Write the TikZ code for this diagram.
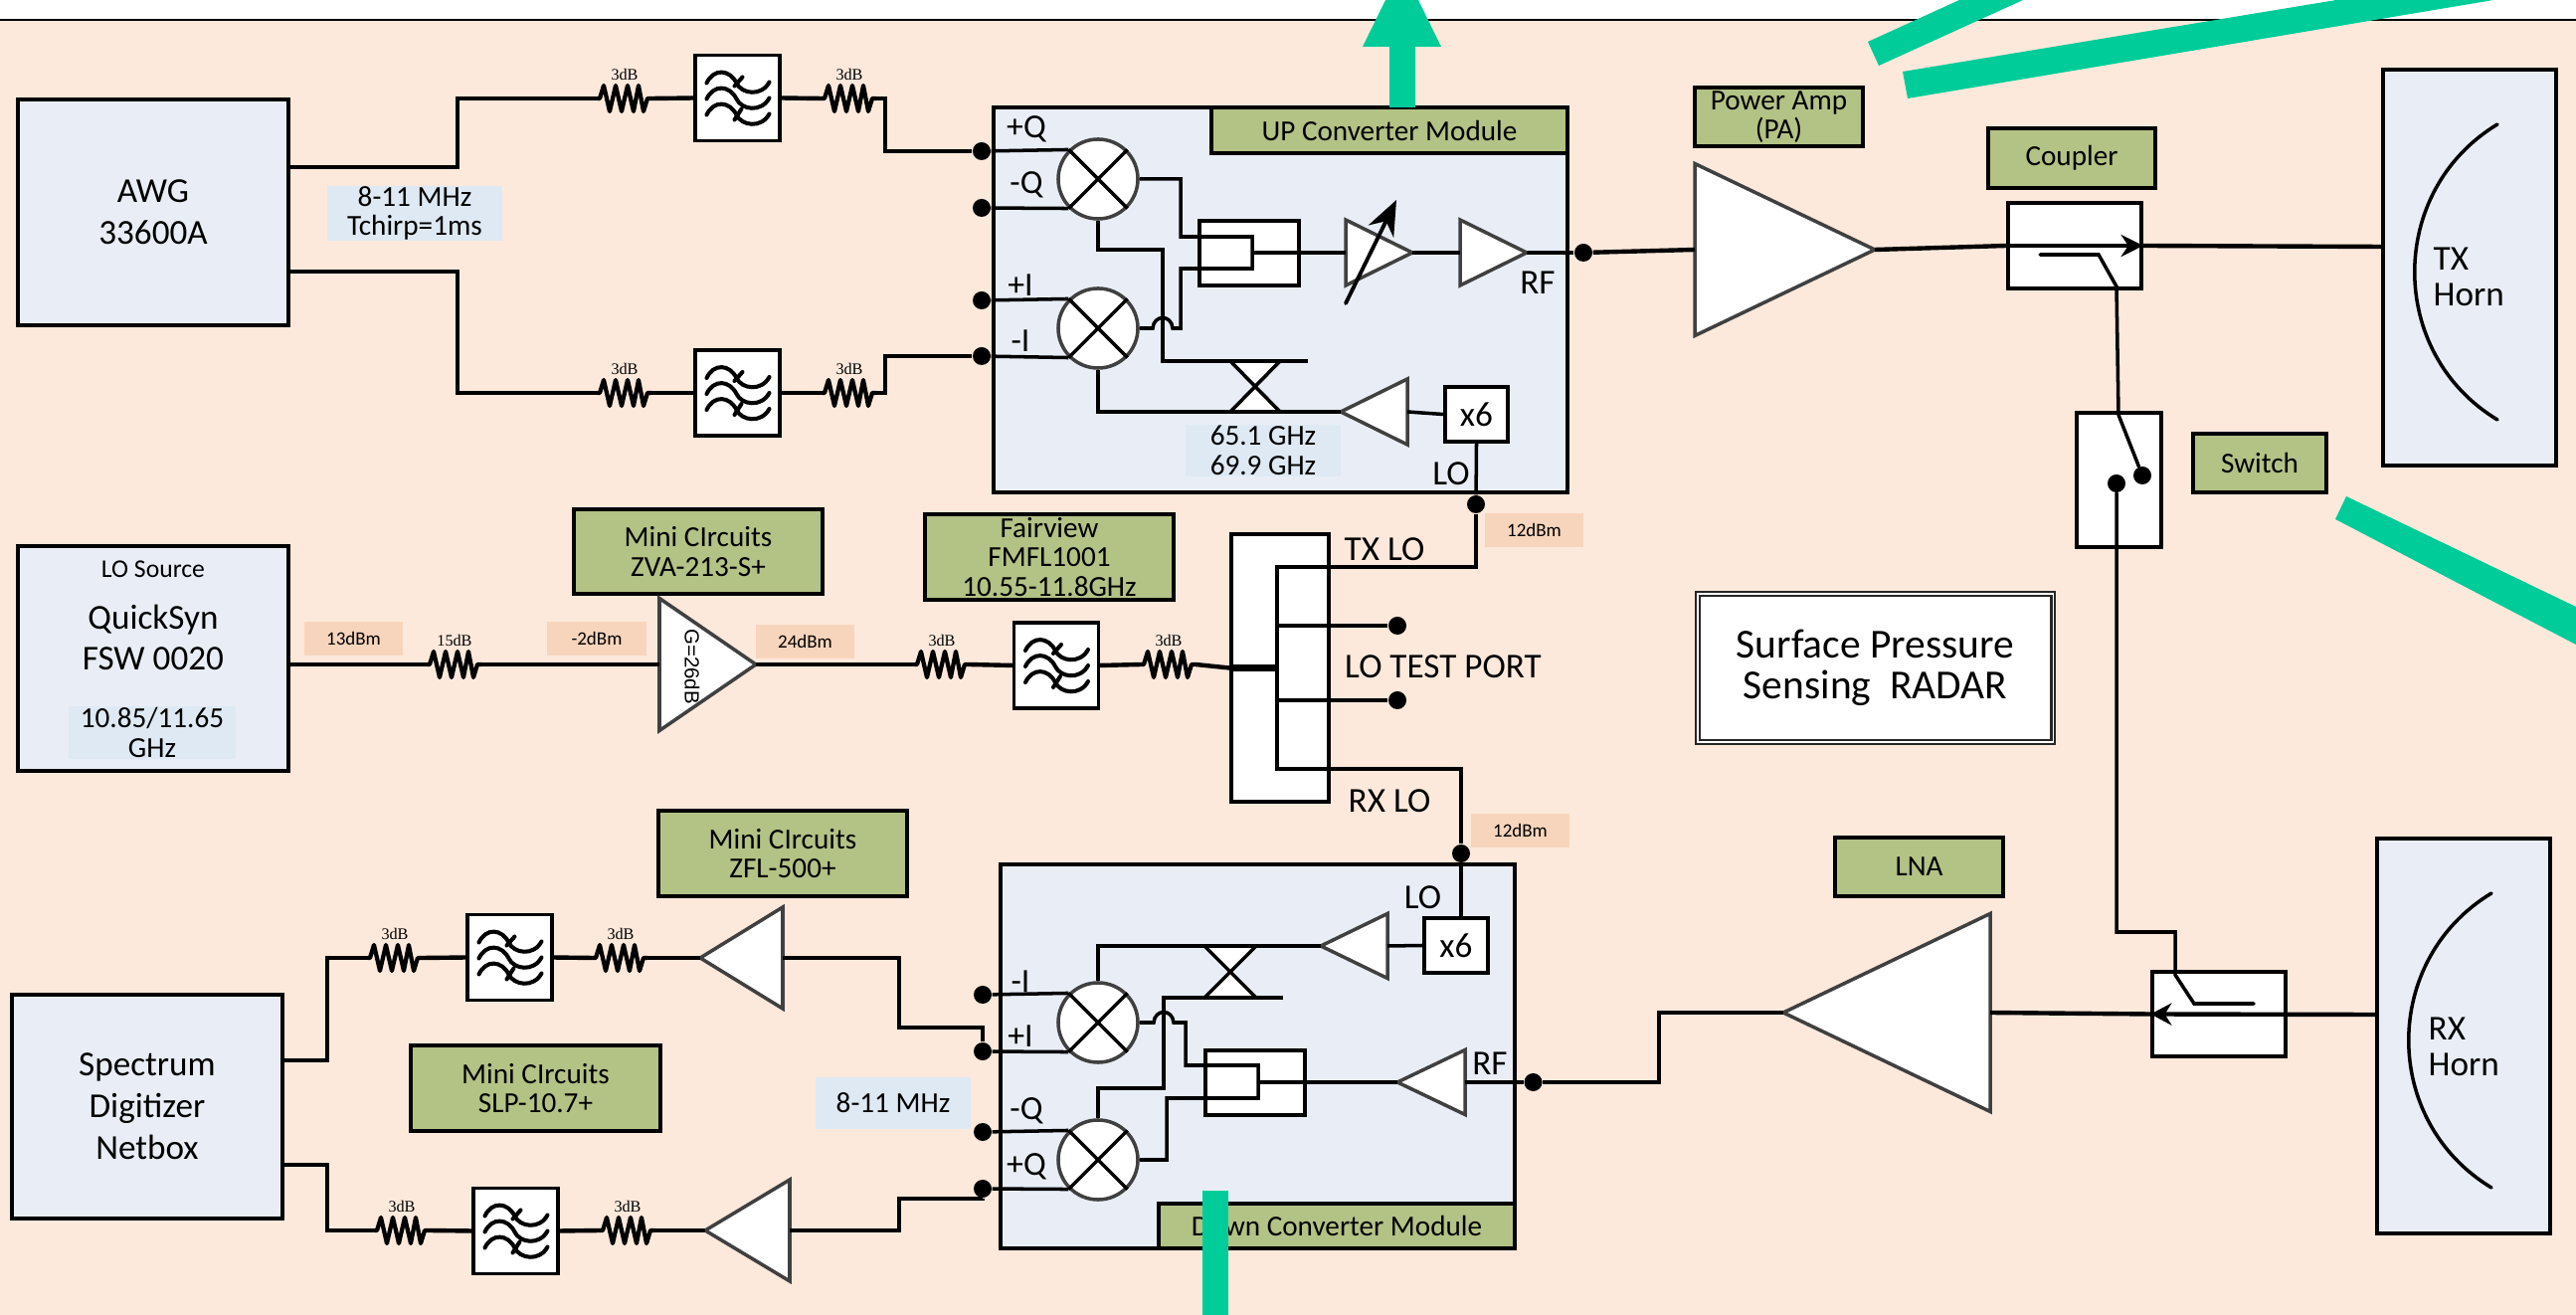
\documentclass[tikz,border=0pt]{standalone}
\usepackage{fontspec}
\setmainfont{Carlito}
\newfontfamily\attenfont{Liberation Serif}
\newfontfamily\gainfont{Liberation Sans}
\usetikzlibrary{positioning, arrows.meta}
\definecolor{PeachBack}{HTML}{FCE9DC}
\definecolor{BlockBlue}{HTML}{E9EEF6}
\definecolor{TagBlue}{HTML}{DEE9F3}
\definecolor{TagPeach}{HTML}{F7D5BC}
\definecolor{NameGreen}{HTML}{B3C285}
\definecolor{MarkGreen}{HTML}{00CC99}
\definecolor{AmpGray}{HTML}{404040}
\tikzset{
  wire/.style={line width=1.25pt, line join=miter},
  thinwire/.style={line width=1pt, line join=miter},
  blockbox/.style={draw, line width=1.1pt, fill=BlockBlue, align=center, inner sep=0pt},
  namebox/.style={draw, line width=1.1pt, fill=NameGreen, align=center, inner sep=0pt, font=\fontsize{8.3}{8.3}\selectfont},
  whitebox/.style={draw, line width=1.1pt, fill=white, inner sep=0pt, align=center},
  tagblue/.style={fill=TagBlue, inner sep=0pt, align=center, font=\fontsize{8.3}{8.4}\selectfont},
  tagpeach/.style={fill=TagPeach, inner sep=0pt, minimum width=.99cm, minimum height=.34cm, font=\fontsize{5.4}{6}\selectfont},
  portdot/.style={circle, fill=black, inner sep=0pt, minimum size=.18cm},
  mixernode/.style={circle, draw=AmpGray, line width=1pt, fill=white, inner sep=0pt, minimum size=.8cm},
  amptri/.style={draw=AmpGray, line width=1pt, fill=white, line join=miter},
  lbl/.style={inner sep=0pt, font=\fontsize{10}{10.2}\selectfont},
  portlbl/.style={inner sep=0pt, font=\fontsize{9.6}{10}\selectfont},
  markbar/.style={fill=MarkGreen},
  atten/.pic={
    \draw[line width=1.2pt, line join=round] (-27,0) -- (-25,0) -- (-21,-13) -- (-15,13) -- (-9,-13) -- (-3,13) -- (3,-13) -- (9,13) -- (14,-13) -- (19,13) -- (23,0) -- (27,0);
    \coordinate (-w) at (-27,0);
    \coordinate (-e) at (27,0);
    \node[inner sep=0pt, font=\attenfont\fontsize{4.6}{5}\selectfont] (-val) at (0,-24) {#1};
  },
  bandpass/.pic={
    \node[whitebox, minimum width=.85cm, minimum height=.86cm] (-box) at (0,0) {};
    \foreach \dy in {0,16,32}
      \draw[line width=1.15pt, line cap=round, shift={(0,\dy)}] (-31,-15) .. controls (-24,-30) and (-8,-29) .. (-1,-15) .. controls (4,-4) and (24,-1) .. (32,-16);
    \draw[line width=1.15pt, line cap=round] (-3,-12) -- (5,-21);
    \draw[line width=1.15pt, line cap=round] (-3,22) -- (4,11);
    \coordinate (-w) at (-42.5,0);
    \coordinate (-e) at (42.5,0);
  },
}
% amplifier triangle: name, tip x, y, base x, half height
\newcommand{\ampl}[5]{
  \draw[amptri] (#2,#3) -- (#4,{#3-#5}) -- (#4,{#3+#5}) -- cycle;
  \coordinate (#1-tip) at (#2,#3);
  \coordinate (#1-base) at (#4,#3);
}
% mixer: name, x, y
\newcommand{\mixer}[3]{
  \node[mixernode] (#1) at (#2,#3) {};
  \draw[thinwire] (#1.45) -- (#1.225);
  \draw[thinwire] (#1.135) -- (#1.-45);
}
\begin{document}
\begin{tikzpicture}[x=.01cm, y=-.01cm]
  \useasboundingbox (0,0) rectangle (2590,1322);
  \fill[white] (0,0) rectangle (2590,20);
  \fill[PeachBack] (0,20) rectangle (2590,1322);
  \draw[line width=.6pt] (0,20) -- (2590,20);

  % Modules
  \node[blockbox, minimum width=5.77cm, minimum height=3.87cm] (upmod) at (1287.5,301.5) {};
  \node[blockbox, minimum width=5.165cm, minimum height=3.86cm] (downmod) at (1264.75,1062) {};
  \node[namebox, minimum width=3.58cm, minimum height=.46cm] (upname) at (1397,131) {UP Converter Module};
  \node[namebox, minimum width=3.58cm, minimum height=.45cm] (downname) at (1344,1232.5) {Down Converter Module};

  % Instruments
  \node[blockbox, minimum width=2.72cm, minimum height=2.27cm, font=\fontsize{10}{12}\selectfont] (awg) at (154,213.5) {AWG\\33600A};
  \node[blockbox, minimum width=2.72cm, minimum height=2.26cm] (losrc) at (154,662) {};
  \node[blockbox, minimum width=2.72cm, minimum height=2.25cm, font=\fontsize{10}{12}\selectfont] (netbox) at (148,1112.5) {Spectrum\\Digitizer\\Netbox};
  \node[inner sep=0pt, font=\fontsize{7.3}{8}\selectfont] (lotitle) at (154,572) {LO Source};
  \node[inner sep=0pt, align=center, font=\fontsize{10}{11.7}\selectfont] (loname) at (154,641) {QuickSyn\\FSW 0020};
  \node[tagblue, minimum width=1.68cm, minimum height=.53cm] (lofreq) at (153,736.5) {10.85/11.65\\GHz};
  \node[blockbox, minimum width=1.74cm, minimum height=3.98cm] (txhorn) at (2483,269) {};
  \node[blockbox, minimum width=1.74cm, minimum height=3.97cm] (rxhorn) at (2477,1041.5) {};
  \node[lbl, align=left, anchor=west] (txtext) at (2446,278) {TX\\Horn};
  \node[lbl, align=left, anchor=west] (rxtext) at (2441,1052) {RX\\Horn};
  \draw[thinwire, line cap=round] (2511,125) .. controls (2400,192) and (2400,355) .. (2511,422);
  \draw[thinwire, line cap=round] (2505,898) .. controls (2394,965) and (2394,1127) .. (2505,1194);

  % Part names
  \node[namebox, minimum width=2.5cm, minimum height=.85cm] (zva) at (702,554.5) {Mini CIrcuits\\ZVA-213-S+};
  \node[namebox, minimum width=2.5cm, minimum height=.86cm] (fairview) at (1055,560) {Fairview\\FMFL1001\\10.55-11.8GHz};
  \node[namebox, minimum width=2.5cm, minimum height=.86cm] (zfl) at (787,858) {Mini CIrcuits\\ZFL-500+};
  \node[namebox, minimum width=2.51cm, minimum height=.86cm] (slp) at (538.5,1094) {Mini CIrcuits\\SLP-10.7+};
  \node[namebox, minimum width=1.69cm, minimum height=.59cm] (paname) at (1788.5,117.5) {Power Amp\\(PA)};
  \node[namebox, minimum width=1.68cm, minimum height=.6cm] (cplname) at (2083,159) {Coupler};
  \node[namebox, minimum width=1.34cm, minimum height=.59cm] (swname) at (2272,465.5) {Switch};
  \node[namebox, minimum width=1.69cm, minimum height=.59cm] (lnaname) at (1929.5,871.5) {LNA};
  \node[draw=black!85, line width=.7pt, double=white, double distance=.35pt, fill=white, minimum width=3.57cm, minimum height=1.49cm, inner sep=0pt, align=center, font=\fontsize{11.8}{11.7}\selectfont] (radar) at (1885.5,671.5) {Surface Pressure\\Sensing\ \ RADAR};

  % Tags
  \node[tagblue, minimum width=1.76cm, minimum height=.53cm] (tagawg) at (417,214.5) {8-11 MHz\\Tchirp=1ms};
  \node[tagblue, minimum width=1.56cm, minimum height=.52cm] (tagup) at (1270,453) {65.1 GHz\\69.9 GHz};
  \node[tagblue, minimum width=1.56cm, minimum height=.52cm] (tagdown) at (898,1109) {8-11 MHz};
  \node[tagpeach] (tagA) at (355.5,642) {13dBm};
  \node[tagpeach] (tagB) at (600,642) {-2dBm};
  \node[tagpeach] (tagC) at (809.5,645) {24dBm};
  \node[tagpeach] (tagD) at (1542.5,533) {12dBm};
  \node[tagpeach] (tagE) at (1528.5,835) {12dBm};

  % Port dots
  \foreach \dotname/\xx/\yy in {pQ/987/152, mQ/987/209, pI/987/302, mI/987/358, rfup/1592/254, txdot/1484/507,
      rxdot/1469/858, tpA/1405/629, tpB/1405/704, dmI/988/1000, dpI/988/1057, dmQ/988/1138, dpQ/988/1195, rfdown/1541.5/1088}
    \node[portdot] (\dotname) at (\xx,\yy) {};

  % Upper I/Q chain
  \pic (atA) at (628,99) {atten=3dB};
  \pic (fltA) at (741.5,98.5) {bandpass};
  \pic (atB) at (854,99) {atten=3dB};
  \pic (atC) at (628,395) {atten=3dB};
  \pic (fltB) at (741.5,395) {bandpass};
  \pic (atD) at (854,395) {atten=3dB};
  \coordinate (awgup) at (290,168);
  \coordinate (awgdn) at (290,273);
  \draw[wire] (awgup) -- (460,168) |- (atA-w);
  \draw[wire] (atA-e) -- (fltA-w);
  \draw[wire] (fltA-e) -- (atB-w);
  \draw[wire] (atB-e) -- (890,99) |- (pQ);
  \draw[wire] (awgdn) -- (460,273) |- (atC-w);
  \draw[wire] (atC-e) -- (fltB-w);
  \draw[wire] (fltB-e) -- (atD-w);
  \draw[wire] (atD-e) -- (890,395) |- (mI);

  % LO chain
  \pic (atE) at (457,668) {atten=15dB};
  \pic (atF) at (947,668) {atten=3dB};
  \pic (fltC) at (1062,669) {bandpass};
  \pic (atG) at (1175,668) {atten=3dB};
  \coordinate (losrcout) at (290,668);
  \draw[wire] (losrcout) -- (atE-w);
  \ampl{loamp}{760}{668}{663}{66.5}
  \node[inner sep=0pt, rotate=-90, font=\gainfont\fontsize{5.8}{7}\selectfont] (gain) at (696,670) {G=26dB};
  \draw[wire] (atE-e) -- (loamp-base);
  \draw[wire] (loamp-tip) -- (atF-w);
  \draw[wire] (atF-e) -- (fltC-w);
  \draw[wire] (fltC-e) -- (atG-w);
  \node[whitebox, minimum width=.98cm, minimum height=2.69cm] (split) at (1287,671.5) {};
  \draw[wire] (atG-e) -- (split.west);
  \draw[line width=1.8pt] (split.west) -- (1284,671.5);
  \draw[thinwire] (txdot) -- (1484,570) -- (1284,570) -- (1284,773) -- (1469,773) -- (rxdot);
  \draw[thinwire] (1284,629) -- (tpA);
  \draw[thinwire] (1284,704) -- (tpB);
  \node[lbl] (txlo) at (1392,552) {TX LO};
  \node[lbl] (lotest) at (1451,670) {LO TEST PORT};
  \node[lbl] (rxlo) at (1397,805) {RX LO};

  % Up converter
  \mixer{mixA}{1104}{180}
  \mixer{mixB}{1104}{330}
  \node[whitebox, minimum width=1cm, minimum height=.65cm] (hybA) at (1256,254.5) {};
  \ampl{varamp}{1420}{254}{1353}{33}
  \ampl{rfamp}{1535}{254}{1468}{33}
  \ampl{loampA}{1348}{414}{1415}{33}
  \node[whitebox, minimum width=.63cm, minimum height=.55cm, font=\fontsize{10}{10}\selectfont] (xsixA) at (1484.5,416.5) {x6};
  \draw[thinwire] (pQ) -- (mixA.135);
  \draw[thinwire] (mQ) -- (mixA.225);
  \draw[thinwire] (pI) -- (mixB.135);
  \draw[thinwire] (mI) -- (mixB.225);
  \draw[thinwire] (mixA.east) -- (1187,180) -- (1187,238) -- (1259,238) -- (1259,270) -- (1187,270) -- (1187,330) -- (1179,330) .. controls (1178,316) and (1160,316) .. (1159,330) -- (mixB.east);
  \draw[thinwire] (mixA.south) -- (1104,251) -- (1169,251) -- (1169,363) -- (1315,363);
  \draw[thinwire] (mixB.south) -- (1104,414) -- (loampA-tip);
  \draw[thinwire, fill=white] (1237,363) -- (1287,414) -- (1237,414) -- (1287,363) -- cycle;
  \draw[thinwire] (1259,254) -- (varamp-base);
  \draw[thinwire] (varamp-tip) -- (rfamp-base);
  \draw[thinwire] (rfamp-tip) -- (rfup);
  \draw[thinwire] (loampA-base) -- (xsixA.west);
  \draw[thinwire] (xsixA.south) -- (txdot);
  \draw[line width=1.1pt, -{Stealth[length=10pt, width=8pt]}, line cap=round] (1353,305) -- (1404,201);
  \node[portlbl] (upPQ) at (1032,130) {+Q};
  \node[portlbl] (upMQ) at (1032,186) {-Q};
  \node[portlbl] (upPI) at (1026,287) {+I};
  \node[portlbl] (upMI) at (1026,343) {-I};
  \node[lbl] (uprf) at (1546,284) {RF};
  \node[lbl] (uplo) at (1459,476) {LO};

  % Power amp and TX path
  \ampl{pamp}{1885}{251}{1704}{86.5}
  \node[whitebox, minimum width=1.34cm, minimum height=.86cm, line width=.95pt] (cplA) at (2086,247) {};
  \draw[wire] (rfup) -- (pamp-base);
  \draw[wire] (pamp-tip) -- (cplA.west);
  \draw[wire, -{Stealth[length=6.3pt, width=6.3pt]}] (cplA.west) -- (cplA.east);
  \draw[wire] (cplA.east) -- (2396,248);
  \node[whitebox, minimum width=.85cm, minimum height=1.35cm, line width=.95pt] (swbox) at (2130.5,482.5) {};
  \node[portdot] (swA) at (2154,478) {};
  \node[portdot] (swB) at (2128,486) {};
  \draw[thinwire, line cap=round] (2051,256) -- (2110,256) -- (2128,288) -- (2130,417) -- (swA);
  \node[whitebox, minimum width=1.34cm, minimum height=.85cm, line width=.95pt] (cplB) at (2231,1019.5) {};
  \draw[thinwire, line cap=round] (swB) -- (2128,937) -- (2187,937) -- (2187,980) -- (2206,1009) -- (2266,1009);

  % Down converter
  \mixer{mixC}{1104}{1028}
  \mixer{mixD}{1104}{1166}
  \node[whitebox, minimum width=1cm, minimum height=.65cm] (hybB) at (1262,1088.5) {};
  \ampl{rxamp}{1405}{1088}{1473}{32.5}
  \ampl{loampB}{1328}{951}{1395}{32.5}
  \node[whitebox, minimum width=.64cm, minimum height=.55cm, font=\fontsize{10}{10}\selectfont] (xsixB) at (1464,950.5) {x6};
  \draw[thinwire] (dmI) -- (mixC.135);
  \draw[thinwire] (dpI) -- (mixC.225);
  \draw[thinwire] (dmQ) -- (mixD.135);
  \draw[thinwire] (dpQ) -- (mixD.225);
  \draw[thinwire] (mixC.north) -- (1104,951) -- (loampB-tip);
  \draw[thinwire] (mixD.north) -- (1104,1094) -- (1170,1094) -- (1170,1003) -- (1290,1003);
  \draw[thinwire, fill=white] (1211,951) -- (1263,1003) -- (1211,1003) -- (1263,951) -- cycle;
  \draw[thinwire] (mixC.east) -- (1160,1028) .. controls (1161,1014) and (1179,1014) .. (1180,1028) -- (1192,1028) -- (1192,1071) -- (1265,1071) -- (1265,1104) -- (1173,1104) -- (1173,1166) -- (mixD.east);
  \draw[thinwire] (1265,1088) -- (rxamp-tip);
  \draw[thinwire] (rxamp-base) -- (rfdown);
  \draw[thinwire] (loampB-base) -- (xsixB.west);
  \draw[thinwire] (rxdot) -- (rxdot |- xsixB.north);
  \node[portlbl] (dnMI) at (1026,987) {-I};
  \node[portlbl] (dnPI) at (1026,1042) {+I};
  \node[portlbl] (dnMQ) at (1032,1117) {-Q};
  \node[portlbl] (dnPQ) at (1032,1173) {+Q};
  \node[lbl] (dnrf) at (1498,1069) {RF};
  \node[lbl] (dnlo) at (1430.5,902) {LO};

  % LNA and RX path
  \ampl{lnaamp}{1793}{1018}{2001}{99.5}
  \draw[wire] (rfdown) -- (1668,1088) |- (lnaamp-tip);
  \draw[wire] (lnaamp-base) -- (cplB.west);
  \coordinate (rxhornin) at (2390,1020);
  \draw[wire, -{Stealth[length=6pt, width=6.3pt]}] (rxhornin) -- (cplB.west);

  % Baseband chains
  \ampl{bbampA}{704}{963}{787}{51}
  \ampl{bbampB}{709}{1237}{794}{51}
  \pic (atH) at (397,963) {atten=3dB};
  \pic (fltD) at (512.5,962.5) {bandpass};
  \pic (atI) at (624,963) {atten=3dB};
  \pic (atJ) at (404,1237) {atten=3dB};
  \pic (fltE) at (518.5,1237.5) {bandpass};
  \pic (atK) at (631,1237) {atten=3dB};
  \coordinate (netup) at (284,1066);
  \coordinate (netdn) at (284,1171);
  \draw[wire] (netup) -- (329,1066) |- (atH-w);
  \draw[wire] (atH-e) -- (fltD-w);
  \draw[wire] (fltD-e) -- (atI-w);
  \draw[wire] (atI-e) -- (bbampA-tip);
  \draw[wire] (bbampA-base) -- (904,963) |- (988,1033) -- (dpI);
  \draw[wire] (netdn) -- (329,1171) |- (atJ-w);
  \draw[wire] (atJ-e) -- (fltE-w);
  \draw[wire] (fltE-e) -- (atK-w);
  \draw[wire] (atK-e) -- (bbampB-tip);
  \draw[wire] (bbampB-base) -- (904,1237) |- (988,1205) -- (dpQ);

  % Marks
  \fill[markbar] (1397,108) -- (1423,108) -- (1423,47) -- (1449,47) -- (1426,0) -- (1393,0) -- (1370,47) -- (1397,47) -- cycle;
  \fill[markbar] (1878,42) -- (1889,66) -- (2034,0) -- (1970,0) -- cycle;
  \fill[markbar] (1913,72) -- (1918,99) -- (2507,0) -- (2349,0) -- cycle;
  \fill[markbar] (2359,499) -- (2348,522) -- (2590,648) -- (2590,610) -- cycle;
  \fill[markbar] (1209,1197) rectangle (1235,1322);
\end{tikzpicture}
\end{document}
